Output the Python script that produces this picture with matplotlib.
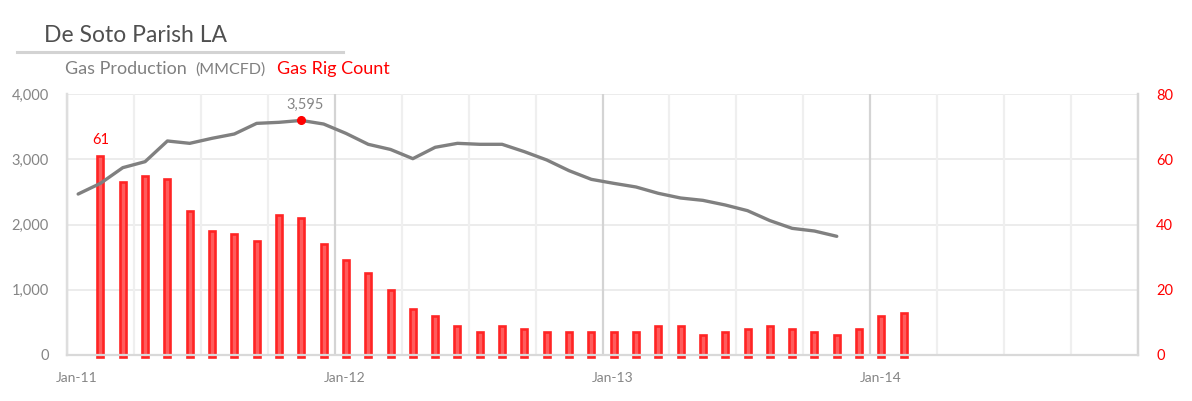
import matplotlib
matplotlib.use("Agg")
import matplotlib.pyplot as plt
import numpy as np
from matplotlib.transforms import ScaledTranslation

# ---- data ----
title = "De Soto Parish LA"
prod_label = "Gas Production"
prod_unit = "(MMCFD)"
rig_label = "Gas Rig Count"
year_labels = ["Jan-11", "Jan-12", "Jan-13", "Jan-14"]

# monthly gas production (MMCFD), starting Jan-11
production = [2467, 2631, 2871, 2963, 3280, 3244, 3321, 3387, 3550, 3566,
              3595, 3540, 3397, 3229, 3150, 3009, 3183, 3244, 3229, 3229,
              3116, 2989, 2825, 2692, 2631, 2575, 2478, 2406, 2370, 2299,
              2212, 2060, 1941, 1900, 1819]
# monthly gas rig count, starting Feb-11
rigs = [61, 53, 55, 54, 44, 38, 37, 35, 43, 42, 34, 29, 25, 20, 14, 12, 9, 7,
        9, 8, 7, 7, 7, 7, 7, 9, 9, 6, 7, 8, 9, 8, 7, 6, 8, 12, 13]
prod_start = 0   # month offset from Jan-11
rig_start = 1

W, H = 1192, 401
fig = plt.figure(figsize=(W / 100, H / 100), dpi=100)
plt.rcParams['font.family'] = ['Lato', 'DejaVu Sans']

L, R, T, B = 67, 1138, 94, 355
ax = fig.add_axes([L / W, 1 - B / H, (R - L) / W, (B - T) / H])
ax2 = ax.twinx()
ax.set_zorder(ax2.get_zorder() + 1)
ax.patch.set_visible(False)

gray_txt = "#858585"
red = "#ff0000"

# bars (rig count) on right axis
xr = rig_start + np.arange(len(rigs)) + 0.5
ax2.bar(xr, np.array(rigs) + 0.6, bottom=-0.6, width=0.27,
        facecolor="#ff5c5c", edgecolor="#ff2424", linewidth=1.9,
        clip_on=False, zorder=3)
ax2.set_ylim(0, 80)
ax2.set_yticks([0, 20, 40, 60, 80])
ax2.tick_params(axis='y', length=0, pad=13, labelcolor=red, labelsize=10.5)
ax2.grid(axis='y', color="#ececec", linewidth=1.4, zorder=0)
ax2.set_axisbelow(True)

# line (production) on left axis
xp = prod_start + np.arange(len(production)) + 0.5
ax.plot(xp, production, color="#808080", linewidth=2.4, zorder=4,
        solid_capstyle='round')
imax = int(np.argmax(production))
ax.plot(xp[imax], production[imax], 'o', color=red, markersize=5.5, zorder=5)
ax.annotate(f"{production[imax]:,}", (xp[imax], production[imax]),
            xytext=(3, 6), textcoords='offset points', ha='center',
            va='bottom', color=gray_txt, fontsize=10.5)
ax2.annotate(f"{rigs[0]}", (xr[0], rigs[0]), xytext=(0, 6.5),
             textcoords='offset points', ha='center', va='bottom',
             color=red, fontsize=10.5)

ax.set_ylim(0, 4000)
ax.set_yticks([0, 1000, 2000, 3000, 4000])
ax.set_yticklabels([f"{v:,}" for v in [0, 1000, 2000, 3000, 4000]])
ax.tick_params(axis='y', length=0, pad=13, labelcolor=gray_txt, labelsize=10.5)

ax.set_xlim(0, 48)
ax.set_xticks([0, 12, 24, 36])
ax.set_xticklabels(year_labels)
ax.set_xticks(np.arange(0, 49, 3), minor=True)
ax.tick_params(axis='x', which='both', length=0, pad=12,
               labelcolor=gray_txt, labelsize=10)
ax.grid(axis='x', which='minor', color="#efefef", linewidth=1.6)
ax.grid(axis='x', which='major', color="#d4d4d4", linewidth=1.6)
ax.grid(axis='y', visible=False)
for lab in ax.get_xticklabels():
    lab.set_transform(lab.get_transform() + ScaledTranslation(0.10, 0, fig.dpi_scale_trans))

for a in (ax, ax2):
    a.spines['top'].set_visible(False)
    a.spines['left'].set_color("#dedede")
    a.spines['right'].set_color("#d6d6d6")
    a.spines['bottom'].set_color("#d9d9d9")
    for s in ('left', 'right', 'bottom'):
        a.spines[s].set_linewidth(1.6)
ax2.spines['bottom'].set_visible(False)

# title and subtitle
def px(x, y):
    return x / W, 1 - y / H

fig.text(*px(44, 42), title, fontsize=16.5, color="#505050", va='baseline')
fig.add_artist(plt.Line2D([17 / W, 343 / W], [1 - 52 / H, 1 - 52 / H],
                          color="#d3d3d3", linewidth=2.2))
fig.text(*px(65, 74), prod_label, fontsize=13, color="#808080", va='baseline')
fig.text(*px(195, 74), prod_unit, fontsize=11.5, color="#808080", va='baseline')
fig.text(*px(277, 74), rig_label, fontsize=13, color=red, va='baseline')

fig.savefig("out.png", dpi=100)
